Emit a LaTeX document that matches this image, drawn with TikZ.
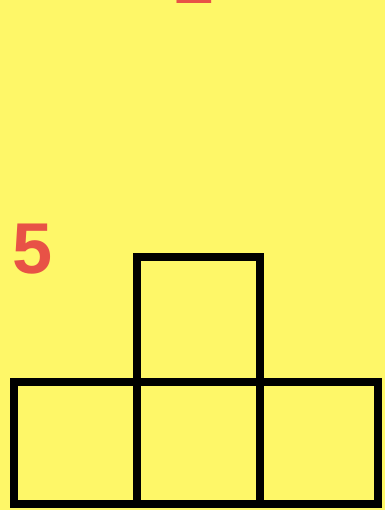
\documentclass[tikz,border=0pt]{standalone}
\usepackage{fontspec}
\setmainfont{Liberation Sans}
\definecolor{bgyellow}{RGB}{254,247,104}
\definecolor{numred}{RGB}{232,82,70}
\begin{document}
\begin{tikzpicture}[x=1pt,y=-1pt,
  sq/.style={line width=8pt,draw=black,line join=miter},
  num/.style={text=numred,font=\fontsize{72}{72}\selectfont\bfseries,inner sep=0pt}]
\useasboundingbox (0,0) rectangle (385,510);
\clip (0,0) rectangle (385,510);
\fill[bgyellow] (0,0) rectangle (385,510);
\node[num] (two) at (195,-22) {2};
\node[num] (five) at (33,249) {5};
\draw[sq] (137,257) rectangle (260,382);
\draw[sq] (13.5,382) rectangle (378,504);
\draw[sq] (137,382) -- (137,504);
\draw[sq] (260,382) -- (260,504);
\end{tikzpicture}
\end{document}
